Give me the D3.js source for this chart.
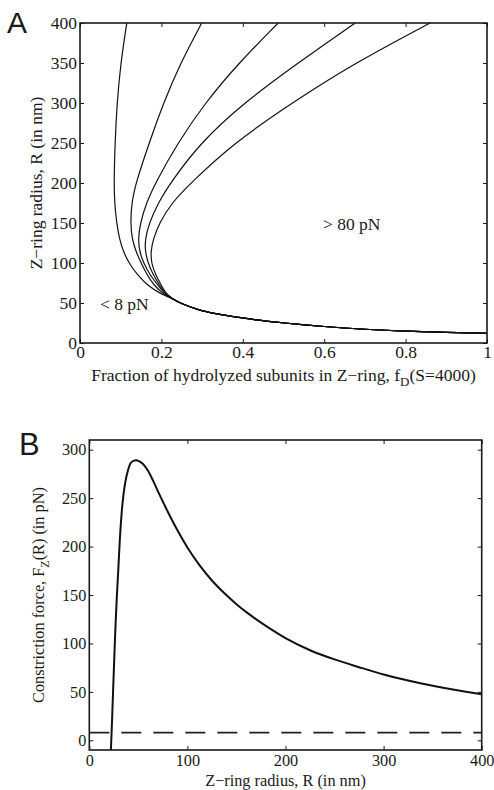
<!DOCTYPE html>
<html>
<head>
<meta charset="utf-8">
<script src="https://cdn.jsdelivr.net/npm/d3@7"></script>
<style>
  body { margin: 0; background: #fff; }
</style>
</head>
<body>
<svg id="chart" width="494" height="790"></svg>
<script>
const SERIF = '"Liberation Serif", "Times New Roman", serif';
const SANS = '"Liberation Sans", Arial, sans-serif';

// ---- Panel A data: Z-ring radius R (nm) vs fraction f_D, one branch per force level
const radiusGridA = [400, 350, 300, 250, 200, 175, 150, 130, 115, 100, 85, 72, 62];
const fractionCurve1 = [0.115, 0.100, 0.091, 0.086, 0.0835, 0.085, 0.090, 0.097, 0.106, 0.120, 0.141, 0.166, 0.196];
const fractionCurve2 = [0.299, 0.247, 0.205, 0.170, 0.137, 0.127, 0.124, 0.128, 0.137, 0.150, 0.165, 0.182, 0.203];
const fractionCurve3 = [0.487, 0.390, 0.307, 0.240, 0.185, 0.163, 0.148, 0.143, 0.146, 0.156, 0.172, 0.192, 0.207];
const fractionCurve4 = [0.676, 0.535, 0.402, 0.295, 0.222, 0.192, 0.170, 0.160, 0.160, 0.167, 0.180, 0.196, 0.209];
const fractionCurve5 = [0.860, 0.675, 0.520, 0.378, 0.272, 0.225, 0.195, 0.180, 0.174, 0.175, 0.186, 0.200, 0.211];
// common tail all branches merge into
const tailFraction = [0.225, 0.246, 0.290, 0.328, 0.418, 0.500, 0.600, 0.700, 0.800, 0.900, 1.000];
const tailRadius   = [56.0, 49.6, 41.5, 37.0, 29.6, 25.0, 20.4, 17.0, 14.6, 13.2, 12.1];

const ticksAx = [0, 0.2, 0.4, 0.6, 0.8, 1];
const ticksAy = [0, 50, 100, 150, 200, 250, 300, 350, 400];

// ---- Panel B data: constriction force F_Z(R) (pN) vs radius R (nm)
const radiusB = [22, 23, 24, 25, 26, 27, 28, 29.5, 31, 33, 35, 37, 39.5, 42, 45, 47.5, 51, 55, 60, 65, 70, 80, 90, 100,
  112.5, 125, 137.5, 150, 162.5, 175, 187.5, 200, 225, 250, 275, 300, 325, 350, 375, 400];
const forceB  = [-10, 15, 44, 72, 100, 125, 147, 175, 205, 235, 255, 268, 279, 286, 288.5, 289, 288, 285, 278, 268, 257, 236, 216.5, 199,
  180.5, 165, 152, 140.5, 130.5, 121.5, 113.2, 105.5, 93, 83.5, 75.5, 68, 61.8, 56.3, 51.6, 47.5];
const thresholdForce = 8;

const ticksBx = [0, 100, 200, 300, 400];
const ticksBy = [0, 50, 100, 150, 200, 250, 300];

const svg = d3.select("#chart");

// draws a MATLAB-like box with inward ticks on all four sides
function drawBox(g, x, y, xTicks, yTicks, xFmt, fontSize, xPad) {
  const [x0, x1] = x.range();
  const [y0, y1] = y.range();
  const tick = 4;

  const axes = [
    g.append("g").attr("transform", `translate(0,${y0})`)
      .call(d3.axisBottom(x).tickValues(xTicks).tickSizeInner(-tick).tickSizeOuter(0).tickPadding(xPad).tickFormat(xFmt)),
    g.append("g").attr("transform", `translate(0,${y1})`)
      .call(d3.axisTop(x).tickValues(xTicks).tickSizeInner(-tick).tickSizeOuter(0).tickFormat("")),
    g.append("g").attr("transform", `translate(${x0},0)`)
      .call(d3.axisLeft(y).tickValues(yTicks).tickSizeInner(-tick).tickSizeOuter(0).tickPadding(3)),
    g.append("g").attr("transform", `translate(${x1},0)`)
      .call(d3.axisRight(y).tickValues(yTicks).tickSizeInner(-tick).tickSizeOuter(0).tickFormat(""))
  ];
  axes.forEach(a => {
    a.select(".domain").remove();
    a.attr("font-family", SERIF).attr("font-size", fontSize);
    a.selectAll(".tick line").attr("stroke", "#1a1a1a").attr("stroke-width", 1);
    a.selectAll(".tick text").attr("fill", "#1a1a1a").style("font-family", SERIF);
  });

  g.append("rect")
    .attr("x", x0).attr("y", y1)
    .attr("width", x1 - x0).attr("height", y0 - y1)
    .attr("fill", "none").attr("stroke", "#1a1a1a").attr("stroke-width", 1.6);
}

//* Panel A
const xA = d3.scaleLinear().domain([0, 1]).range([80, 487]);
const yA = d3.scaleLinear().domain([0, 400]).range([343, 23]);
const gA = svg.append("g").attr("font-family", SERIF).attr("fill", "#1a1a1a");

const lineA = d3.line()
  .x(d => xA(d[0]))
  .y(d => yA(d[1]))
  .curve(d3.curveBasis);

[fractionCurve1, fractionCurve2, fractionCurve3, fractionCurve4, fractionCurve5].forEach(fr => {
  const pts = radiusGridA.map((r, i) => [fr[i], r])
    .concat(tailFraction.map((f, i) => [f, tailRadius[i]]));
  gA.append("path")
    .datum(pts)
    .attr("d", lineA)
    .attr("fill", "none")
    .attr("stroke", "#111")
    .attr("stroke-width", 1.2);
});

drawBox(gA, xA, yA, ticksAx, ticksAy, d => d === 0 || d === 1 ? d : d.toFixed(1), 17.5, 3);

gA.append("text").attr("x", xA(0.049)).attr("y", yA(41)).attr("font-size", 17.5).text("< 8 pN");
gA.append("text").attr("x", xA(0.597)).attr("y", yA(141)).attr("font-size", 17.5).text("> 80 pN");

const xLabA = gA.append("text")
  .attr("x", (80 + 487) / 2).attr("y", 381)
  .attr("text-anchor", "middle").attr("font-size", 17.5);
xLabA.append("tspan").text("Fraction of hydrolyzed subunits in Z\u2212ring, f");
xLabA.append("tspan").attr("font-size", 13).attr("dy", 5).text("D");
xLabA.append("tspan").attr("dy", -5).text("(S=4000)");

gA.append("text")
  .attr("transform", `translate(42,${(23 + 343) / 2}) rotate(-90)`)
  .attr("text-anchor", "middle").attr("font-size", 17.5)
  .text("Z\u2212ring radius, R (in nm)");

svg.append("text")
  .attr("font-family", SANS).attr("fill", "#1a1a1a")
  .attr("x", 7).attr("y", 33).attr("font-size", 30).text("A");

//* Panel B
const xB = d3.scaleLinear().domain([0, 400]).range([89.3, 481.7]);
const yB = d3.scaleLinear().domain([-10, 310]).range([750, 440]);
const gB = svg.append("g").attr("font-family", SERIF).attr("fill", "#1a1a1a");

gB.append("line")
  .attr("x1", xB(0)).attr("x2", xB(400))
  .attr("y1", yB(thresholdForce)).attr("y2", yB(thresholdForce))
  .attr("stroke", "#222").attr("stroke-width", 1.8)
  .attr("stroke-dasharray", "20,12");

const lineB = d3.line()
  .x((d, i) => xB(radiusB[i]))
  .y(d => yB(d))
  .curve(d3.curveMonotoneX);

gB.append("path")
  .datum(forceB)
  .attr("d", lineB)
  .attr("fill", "none")
  .attr("stroke", "#111")
  .attr("stroke-width", 2);

drawBox(gB, xB, yB, ticksBx, ticksBy, d3.format("d"), 16.3, 4);

const yLabB = gB.append("text")
  .attr("transform", `translate(44,${(440 + 750) / 2}) rotate(-90)`)
  .attr("text-anchor", "middle").attr("font-size", 16.3);
yLabB.append("tspan").text("Constriction force, F");
yLabB.append("tspan").attr("font-size", 12).attr("dy", 5).text("Z");
yLabB.append("tspan").attr("dy", -5).text("(R) (in pN)");

gB.append("text")
  .attr("x", (89.3 + 481.7) / 2).attr("y", 786)
  .attr("text-anchor", "middle").attr("font-size", 16.3)
  .text("Z\u2212ring radius, R (in nm)");

svg.append("text")
  .attr("font-family", SANS).attr("fill", "#1a1a1a")
  .attr("x", 19).attr("y", 455).attr("font-size", 31).text("B");
</script>
</body>
</html>
